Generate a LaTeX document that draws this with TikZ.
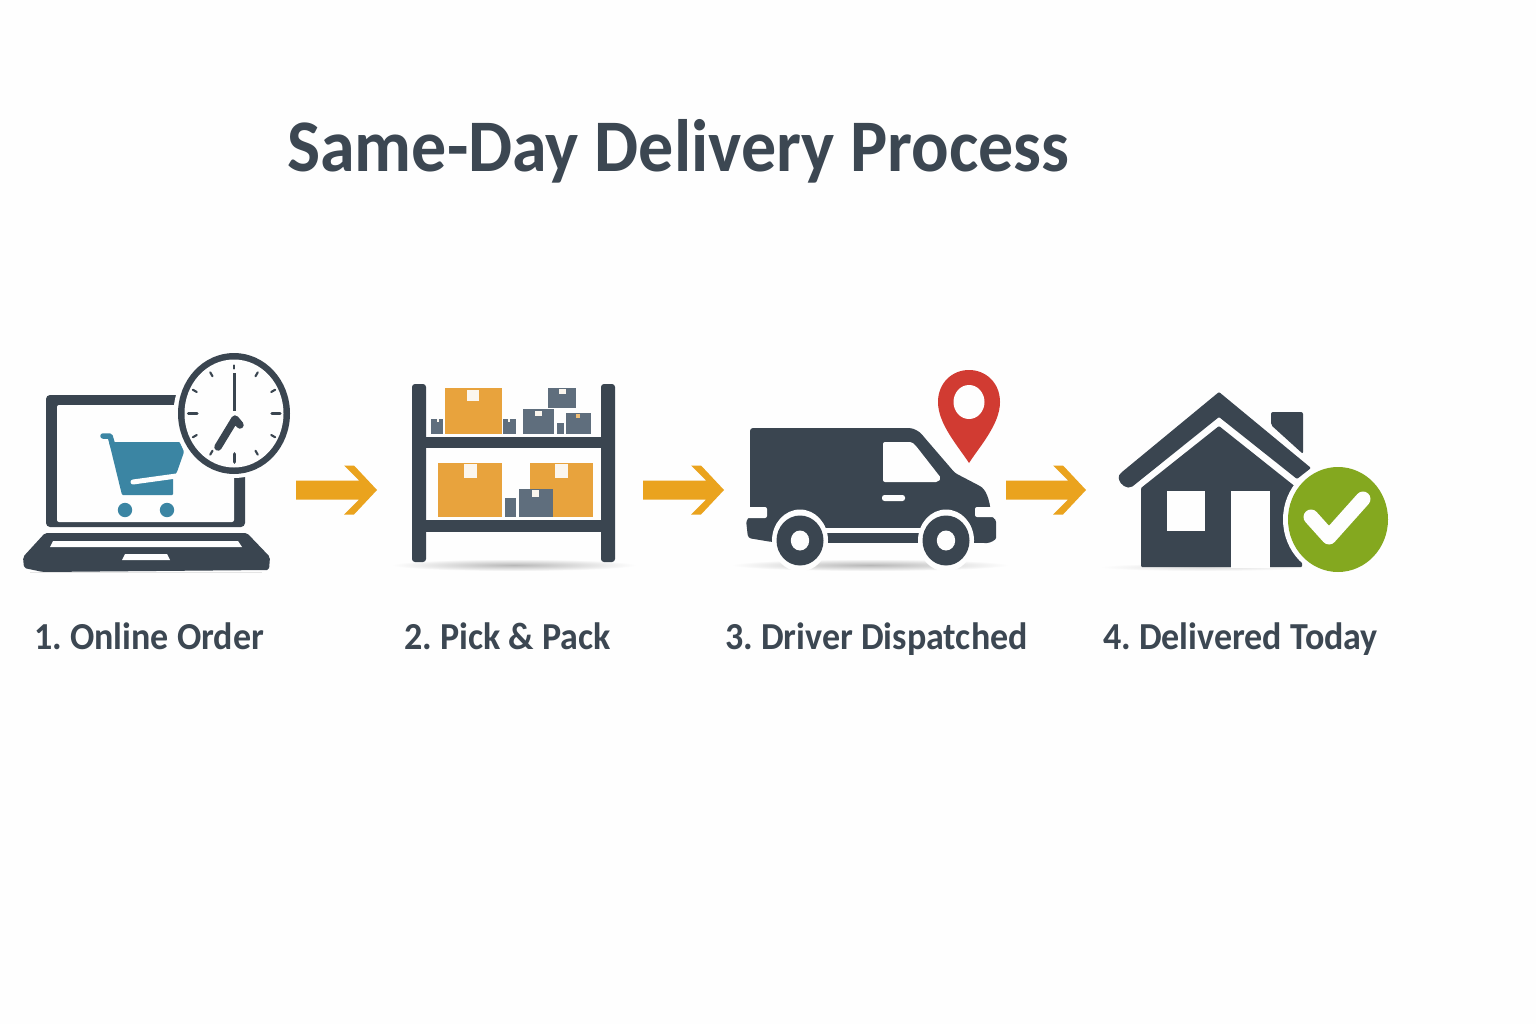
\documentclass[tikz,border=0pt]{standalone}
\usepackage{fontspec}
\setmainfont{Carlito}
\usetikzlibrary{calc}
\definecolor{dark}{HTML}{3A4550}
\definecolor{inktxt}{HTML}{3C4752}
\definecolor{boxor}{HTML}{E8A33D}
\definecolor{boxgr}{HTML}{5F6E7D}
\definecolor{cartc}{HTML}{3B85A3}
\definecolor{flowc}{HTML}{EAA31E}
\definecolor{pinc}{HTML}{D13B32}
\definecolor{okc}{HTML}{84A81F}
\definecolor{paper}{HTML}{FEFEFE}
\definecolor{tagw}{HTML}{FBF6EE}
\newcommand{\tall}[1]{\scalebox{1}[1.06]{#1}}
\frenchspacing
\tikzset{
  steplabel/.style={font=\fontsize{36}{40}\selectfont\bfseries,text=inktxt,anchor=base,inner sep=0pt},
  titlelabel/.style={font=\fontsize{70}{76}\selectfont\bfseries,text=inktxt,anchor=base,inner sep=0pt},
  ground/.style={inner color=black!28,outer color=paper},
  tick/.style={dark,line width=2.1pt,line cap=round},
}
\newcommand{\flowarrow}[2]{%
  \fill[flowc] ($(#1)+(0,-9.5)$) -- ($(#2)+(-18,-9.5)$) -- ($(#2)+(-33,-24.5)$) -- ($(#2)+(-23,-24.5)$)
   -- (#2) -- ($(#2)+(-23,24.5)$) -- ($(#2)+(-33,24.5)$) -- ($(#2)+(-18,9.5)$) -- ($(#1)+(0,9.5)$) -- cycle;}
\newcommand{\crate}[5]{\fill[#5] (#1,#2) rectangle (#3,#4);}
\begin{document}
\begin{tikzpicture}[x=1pt,y=1pt,yscale=-1]
\useasboundingbox (0,0) rectangle (1536,1024);
\fill[paper] (0,0) rectangle (1536,1024);

\node[titlelabel] (title) at (678.5,172) {\tall{Same-Day Delivery Process}};

% ---------- laptop
\fill[dark,rounded corners=4pt] (46,527) -- (46,395) -- (245,395) -- (245,527) -- cycle;
\fill[paper,rounded corners=2pt] (57,405) rectangle (234,522);
\fill[black!10] (30,572) rectangle (262,573);
\fill[dark,rounded corners=2pt] (45,533) -- (247,533) -- (270,557) -- (269,570) -- (43,572) -- (24,568) -- (23,557) -- cycle;
\fill[paper] (53,541) -- (238,541) -- (242,547) -- (50,547) -- cycle;
\fill[paper] (125,554) -- (167,554) -- (170,560) -- (122,560) -- cycle;
% cart
\draw[cartc,line width=5.5pt,line cap=round,line join=round] (103,436) -- (110,436) -- (113,446);
\fill[cartc,rounded corners=1pt] (109,442) -- (180,442) -- (184,452) -- (177,472) -- (173,478) -- (173,495) -- (122,495) -- cycle;
\draw[paper,line width=5pt,line cap=round] (133,482) -- (180,475.5);
\fill[cartc] (125,510) circle (7.2);
\fill[cartc] (167,510) circle (7.2);
% clock
\fill[paper] (234,413.5) ellipse (60.5 and 64.5);
\fill[dark] (234,413.5) ellipse (56 and 60.5);
\fill[paper] (234,413.5) ellipse (49.5 and 54);
\foreach \a in {30,60,120,150,210,240,300,330}
  \draw[tick] ($(234,413.5)+(\a:43)$) -- ($(234,413.5)+(\a:47.5)$);
\draw[tick] (234,365.5) -- (234,368.5);
\draw[dark,line width=3.4pt,line cap=round] (188.5,413.5) -- (197,413.5);
\draw[dark,line width=3.4pt,line cap=round] (272,413.5) -- (280,413.5);
\draw[dark,line width=3.8pt,line cap=round] (234.5,454) -- (234.5,462);
\draw[dark,line width=3.6pt] (234.5,373) -- (234.5,411);
\draw[dark,line width=7.5pt,line cap=round,line join=round] (218,447) -- (235,419) -- (240,425);

% arrow 1
\coordinate (a1s) at (296,490);
\coordinate (a1e) at (377,490);
\flowarrow{a1s}{a1e}

% ---------- shelf
\shade[ground] (514,565) ellipse (122 and 6);
\crate{445}{388}{502}{434}{boxor}
\fill[tagw] (467,390) rectangle (479,401);
\crate{431}{419}{443}{434}{boxgr}
\fill[tagw] (437,419) rectangle (439,422);
\crate{503}{419}{516}{434}{boxgr}
\fill[tagw] (508,419) rectangle (510,422);
\crate{523}{409}{554}{434}{boxgr}
\fill[tagw] (535,411) rectangle (542,416);
\crate{548}{388}{576}{408}{boxgr}
\fill[tagw] (559,389) rectangle (566,394);
\crate{557}{423}{564}{434}{boxgr}
\crate{566}{413}{591}{434}{boxgr}
\fill[boxor!70!white] (576,414) rectangle (580,418);
\crate{438}{463}{502}{517}{boxor}
\fill[tagw] (464,464) rectangle (477,478);
\crate{530}{463}{593}{517}{boxor}
\fill[tagw] (555,464) rectangle (568,478);
\crate{505}{498}{516}{517}{boxgr}
\crate{519}{489}{553}{517}{boxgr}
\fill[tagw] (532,490) rectangle (539,497);
\fill[dark] (426,437) rectangle (601,448);
\fill[dark] (426,520) rectangle (601,532);
\fill[dark,rounded corners=3pt] (412,562) -- (412,384) -- (426,384) -- (426,562) -- cycle;
\fill[dark,rounded corners=3pt] (601,562) -- (601,384) -- (615,384) -- (615,562) -- cycle;

% arrow 2
\coordinate (a2s) at (643,490);
\coordinate (a2e) at (724,490);
\flowarrow{a2s}{a2e}

% ---------- van
\shade[ground] (870,565) ellipse (138 and 6);
\fill[dark,rounded corners=3pt] (750,518) -- (750,428) -- (906,428) .. controls (914,428) and (920,432) .. (924,437) -- (955,473) -- (978,485) .. controls (985,489) and (990,498) .. (991,517) -- (996,519) -- (996,535) .. controls (996,540) and (990,543) .. (984,543) -- (772,542) -- (748,538) -- (746,520) -- cycle;
\fill[paper,rounded corners=2pt] (745,507) -- (767,507) -- (767,518) -- (745,518) -- cycle;
\fill[paper,rounded corners=2pt] (996,507) -- (975,507) -- (975,517) -- (996,517) -- cycle;
\fill[paper,rounded corners=2pt] (883,442) -- (908,442) .. controls (912,442) and (914,444) .. (916,446) -- (941,478) -- (938,482) -- (883,482) -- cycle;
\fill[paper,rounded corners=2.5pt] (882,495) rectangle (905,501);
\fill[paper] (815,528) rectangle (930,546);
\fill[dark] (825,533) rectangle (922,543);
\fill[paper] (800,540.5) ellipse (28 and 31);
\fill[paper] (946,540.5) ellipse (28 and 31);
\fill[dark] (800,540.5) ellipse (23.5 and 25);
\fill[paper] (800,540.5) ellipse (9.2 and 10);
\fill[dark] (946,540.5) ellipse (23.5 and 25);
\fill[paper] (946,540.5) ellipse (9.2 and 10);
% pin
\fill[pinc] (969,463) .. controls (958,446) and (938,424) .. (938,402) .. controls (938,383) and (952,370) .. (969,370) .. controls (986,370) and (1000,383) .. (1000,402) .. controls (1000,424) and (980,446) .. (969,463) -- cycle;
\fill[paper] (969,402) ellipse (15.5 and 17);

% arrow 3
\coordinate (a3s) at (1006,490);
\coordinate (a3e) at (1086,490);
\flowarrow{a3s}{a3e}

% ---------- house
\shade[inner color=black!14,outer color=paper] (1205,567) ellipse (105 and 4);
\fill[dark,rounded corners=2pt] (1271,425) -- (1271,412) -- (1303,412) -- (1303,454) -- cycle;
\fill[dark,rounded corners=1pt] (1219,392) -- (1311,468) -- (1297,479) -- (1219,417) -- (1133,486) .. controls (1127,490) and (1120,484) .. (1119,479) .. controls (1118,476) and (1120,474) .. (1122,472) -- cycle;
\fill[dark,rounded corners=1pt] (1219,426) -- (1141,488) -- (1141,567) -- (1302,567) -- (1302,492) -- cycle;
\fill[paper] (1167,491) rectangle (1205,531);
\fill[paper] (1231,491) rectangle (1270,567.5);
\fill[paper] (1338,519.5) ellipse (55 and 57.5);
\fill[okc] (1338,519.5) ellipse (50 and 52.5);
\draw[paper,line width=15pt,line cap=round,line join=round] (1311,517) -- (1329,537) -- (1363,499);

% ---------- labels
\node[steplabel] (lab1) at (149,649.5) {\tall{1. Online Order}};
\node[steplabel] (lab2) at (507.5,649.5) {\tall{2. Pick \& Pack}};
\node[steplabel] (lab3) at (876.5,649.5) {\tall{3. Driver Dispatched}};
\node[steplabel] (lab4) at (1240.5,649.5) {\tall{4. Delivered Today}};
\end{tikzpicture}
\end{document}
